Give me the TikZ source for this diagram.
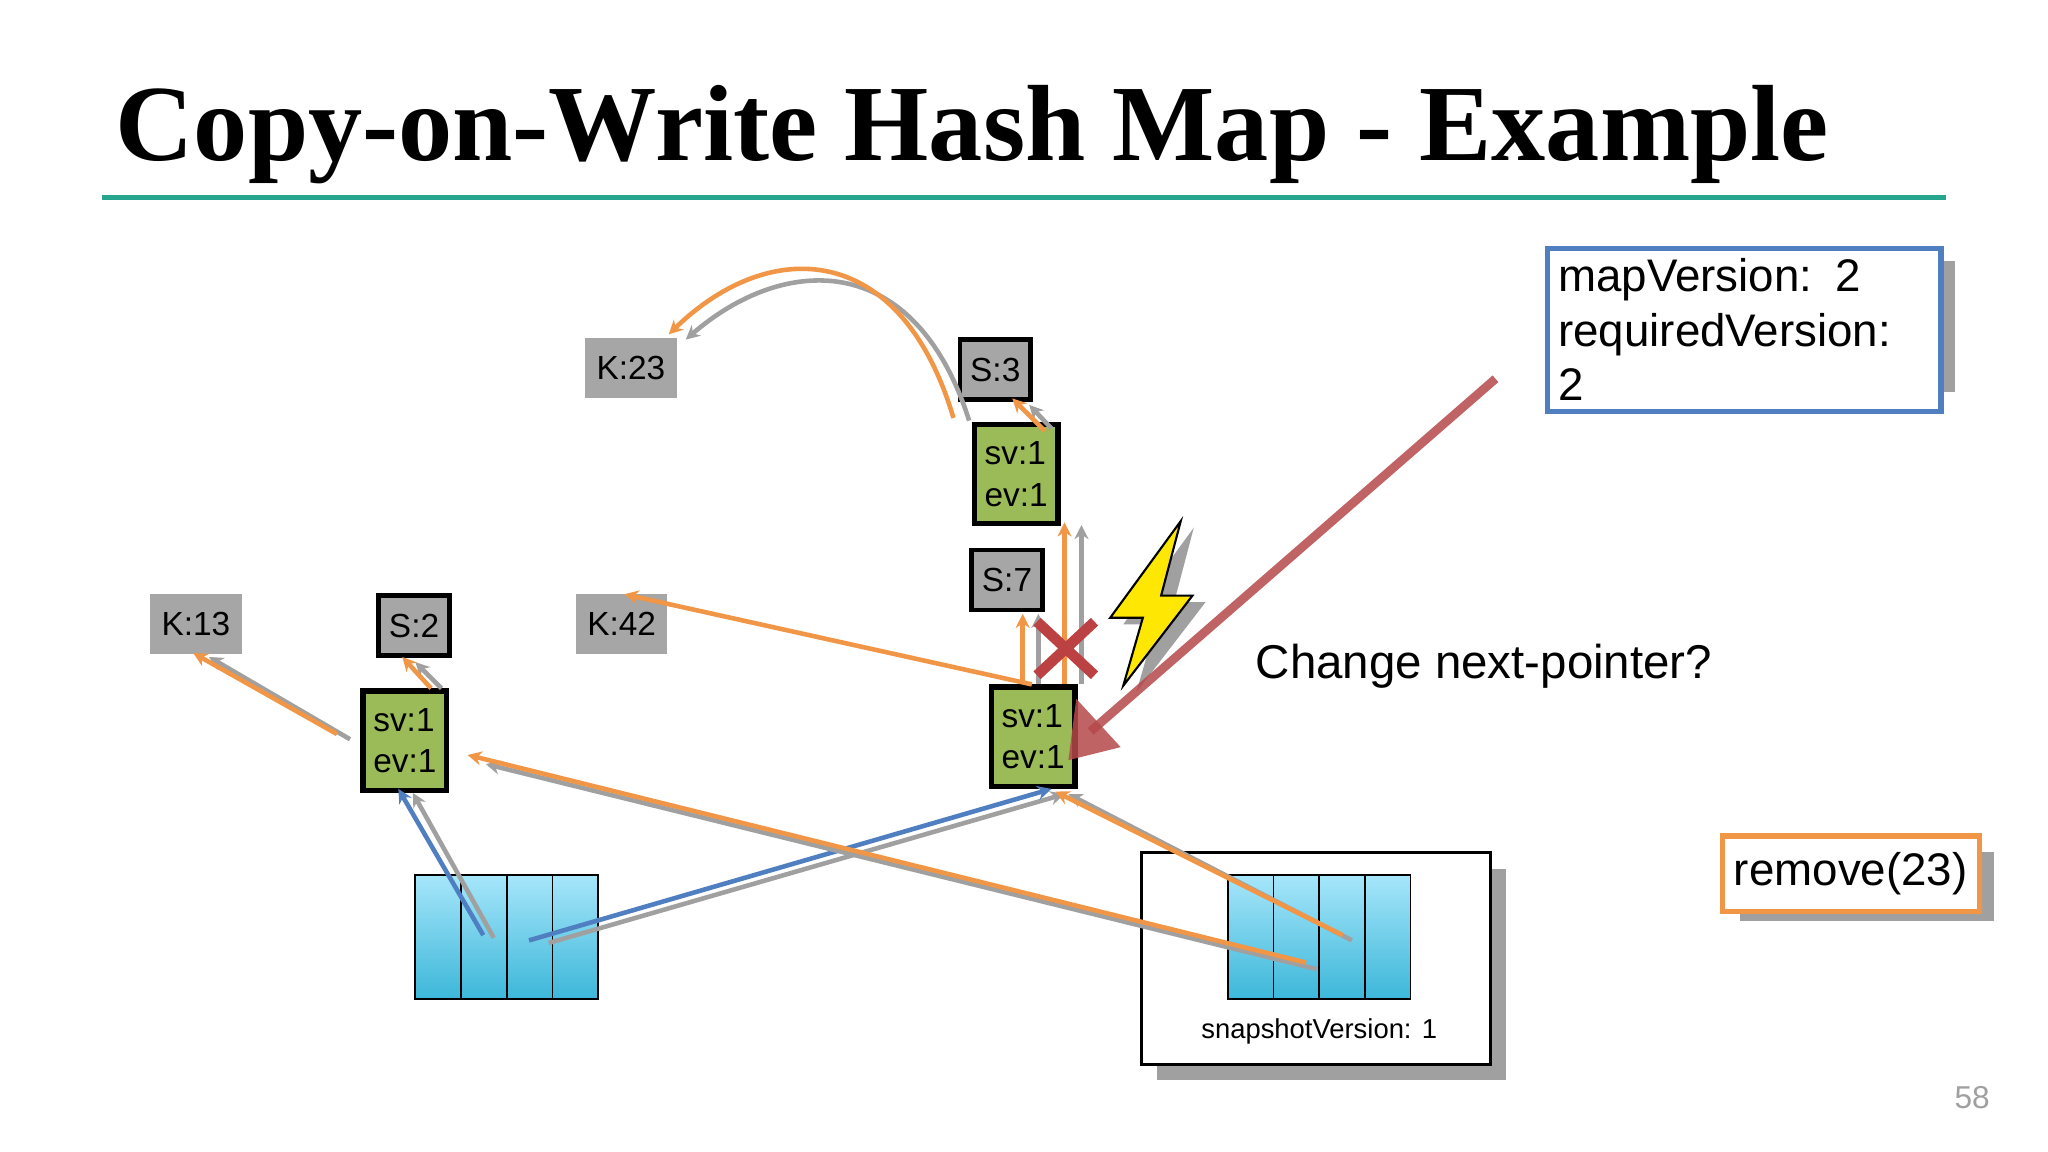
\documentclass[tikz,border=0pt]{standalone}
\usepackage{fontspec}
\setmainfont{Liberation Sans}
\newfontfamily\titlefont{Liberation Serif}
\usetikzlibrary{arrows.meta,calc}
\definecolor{org}{RGB}{240,150,70}
\definecolor{gry}{RGB}{160,160,160}
\definecolor{blu}{RGB}{79,127,192}
\definecolor{grn}{RGB}{155,187,89}
\definecolor{boxg}{RGB}{166,166,166}
\definecolor{teal}{RGB}{38,166,140}
\definecolor{chalk}{RGB}{180,72,74}
\definecolor{cyt}{RGB}{166,230,250}
\definecolor{cyb}{RGB}{60,183,217}
\begin{document}
\begin{tikzpicture}[x=0.13061mm,y=-0.13061mm,
  lab/.style={font=\fontsize{9.5}{11}\selectfont,inner sep=0pt},
  kbox/.style={lab,fill=boxg,minimum width={70*0.13061mm},minimum height={46*0.13061mm}},
  sbox/.style={lab,fill=boxg,draw=black,line width=1.3pt,minimum width={54*0.13061mm},minimum height={46*0.13061mm}},
  ebox/.style={lab,fill=grn,draw=black,line width=1.5pt,minimum width={64*0.13061mm},minimum height={76*0.13061mm},align=left,font=\fontsize{9.5}{11.8}\selectfont},
  oa/.style={draw=org,line width=1.3pt,-{Stealth[length=4pt,width=4pt]}},
  ga/.style={draw=gry,line width=1.3pt,-{Stealth[length=4pt,width=4pt]}},
  ba/.style={draw=blu,line width=1.3pt,-{Stealth[length=4pt,width=4pt]}},
  cell/.style={draw=black,line width=0.5pt,top color=cyt,bottom color=cyb}]
\useasboundingbox (0,0) rectangle (1568,882);
% title
\node[anchor=base west,inner sep=0pt] (title) at (88,123) {\resizebox{171.3mm}{!}{\titlefont\bfseries Copy-on-Write Hash Map - Example}};
\draw[teal,line width=1.3pt] (78,151) -- (1490,151);
% nodes
\node[kbox] (k23) at (483,282) {K:23};
\node[sbox] (s3) at (762,283) {S:3};
\node[ebox] (e1) at (778,363) {sv:1\\ev:1};
\node[sbox] (s7) at (771,444) {S:7};
\node[kbox] (k13) at (150,478) {K:13};
\node[sbox] (s2) at (317,479) {S:2};
\node[kbox] (k42) at (476,478) {K:42};
\node[ebox] (e2) at (310,567) {sv:1\\ev:1};
\node[ebox] (e3) at (791,564) {sv:1\\ev:1};
% arrays
\foreach \i in {0,1,2,3}{\draw[cell] (318+35*\i,670) rectangle (353+35*\i,765);}
\fill[gry] (886,665) rectangle (1153,827);
\node[draw=black,fill=white,line width=0.8pt,minimum width={267*0.13061mm},minimum height={162*0.13061mm},inner sep=0pt] (snap) at (1007.5,734) {};
\foreach \i in {0,1,2,3}{\draw[cell] (940+35*\i,670) rectangle (975+35*\i,765);}
\node[font=\fontsize{7.8}{9}\selectfont] (sv) at (1010,790) {snapshotVersion: 1};
% mapVersion
\fill[gry] (1195,200) rectangle (1497,300);
\node[draw=blu,fill=white,line width=1.5pt,minimum width={301*0.13061mm},minimum height={100*0.13061mm},align=left,anchor=north west,inner sep=3pt,font=\fontsize{13}{15.5}\selectfont,text width={285*0.13061mm}] (mv) at (1183,188) {mapVersion: 2\\requiredVersion: 2};
% remove
\fill[gry] (1332,652) rectangle (1527,705);
\node[draw=org,fill=white,line width=1.5pt,minimum width={195*0.13061mm},minimum height={58*0.13061mm},font=\fontsize{13}{15}\selectfont] (rm) at (1417,669) {remove(23)};
\node[font=\fontsize{13.5}{16}\selectfont,anchor=west] (chg) at (952,510) {Change next-pointer?};
\node[text=gry,font=\fontsize{9}{11}\selectfont] (pg) at (1510,840) {58};
% coordinates
\coordinate (c1g) at (742,322); \coordinate (c1o) at (730,320);
\coordinate (c2g) at (525,260); \coordinate (c2o) at (512,256);
% arrows
\draw[ga] (c1g) .. controls (700,190) and (600,195) .. (c2g);
\draw[oa] (c1o) .. controls (690,185) and (590,180) .. (c2o);
\draw[ga] (805,328) -- (788,310);
\draw[oa] (800,330) -- (775,305);
\draw[ga] (828,524) -- (828,402);
\draw[oa] (815,524) -- (815,400);
\draw[ga] (795,524) -- (795,470);
\draw[oa] (783,524) -- (783,470);
\draw[oa] (790,524) -- (478,455);
\draw[ga] (268,566) -- (160,503);
\draw[oa] (258,562) -- (148,500);
\draw[ga] (338,527) -- (318,507);
\draw[oa] (330,527) -- (308,503);
\draw[ga] (378,718) -- (316,607);
\draw[ba] (370,716) -- (305,604);
\draw[ga] (420,722) -- (815,608);
\draw[ba] (405,720) -- (805,604);
\draw[ga] (1035,720) -- (818,608);
\draw[oa] (1028,716) -- (808,606);
\draw[ga] (1008,742) -- (372,585);
\draw[oa] (1000,737) -- (358,578);
% lightning
\fill[gry] (914,404) -- (860,478) -- (885,478) -- (870,530) -- (923,461) -- (899,461) -- cycle;
\draw[fill=yellow!90!orange,line width=0.6pt] (904,399) -- (850,473) -- (875,473) -- (860,525) -- (913,456) -- (889,456) -- cycle;
% red X
\draw[chalk!90!red,line width=3pt] (794,476) -- (838,517) (838,476) -- (794,517);
% chalk arrow
\draw[chalk,line width=2.5pt,opacity=0.85] (1145,290) -- (835,560);
\fill[chalk,opacity=0.85] (818,582) -- (824,535) -- (858,572) -- cycle;
\end{tikzpicture}
\end{document}
